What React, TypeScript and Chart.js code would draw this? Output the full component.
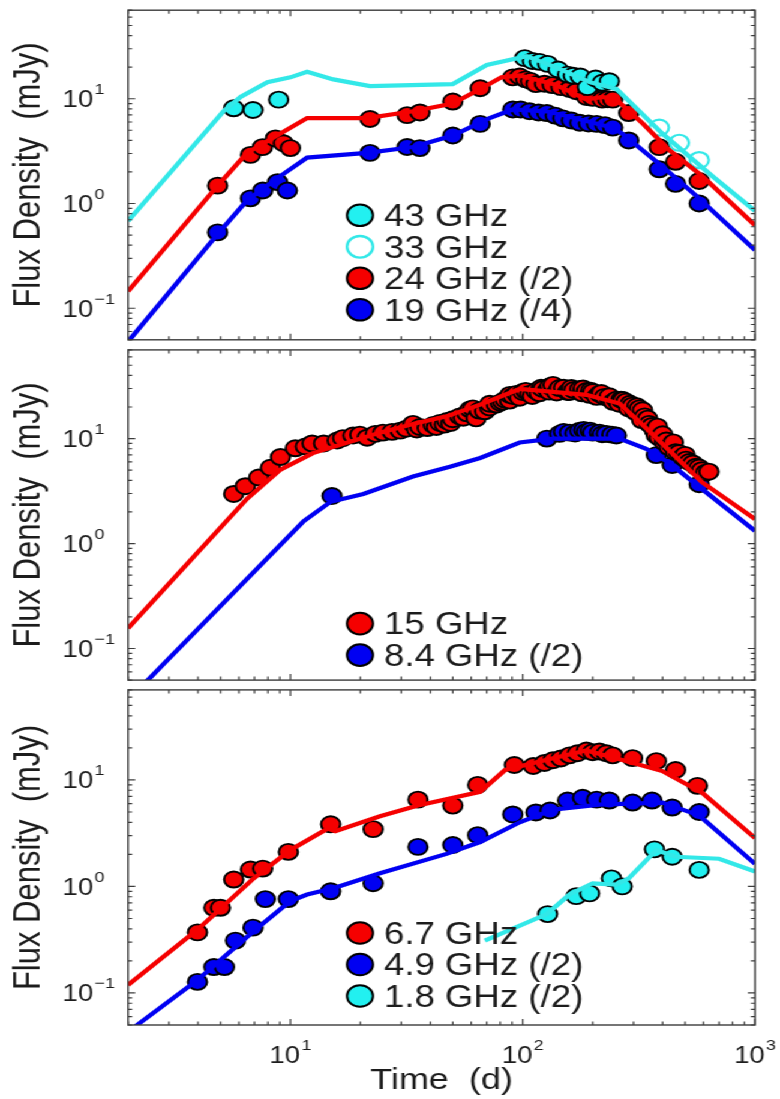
import { useEffect, useRef } from "react";
import { Chart, registerables } from "chart.js";

Chart.register(...registerables);

// ---- axis limits (shared by all three panels) ----
const DAY_MIN = 2;
const DAY_MAX = 1000;
const FLUX_MIN = 0.05;
const FLUX_MAX = 70;

// ---- top panel: 43 / 33 / 24 / 19 GHz ----
const p43Days = [5.7, 6.9, 8.9, 102, 110, 118, 128, 142, 156, 165, 177, 190, 206, 220, 236];
const p43Flux = [8.1, 7.8, 9.8, 24.4, 22.9, 22.5, 21.5, 19.0, 17.0, 16.6, 16.3, 12.9, 15.6, 14.2, 14.7];
const p33Days = [387, 472, 575];
const p33Flux = [5.3, 3.8, 2.6];
const p24Days = [4.86, 6.73, 7.58, 8.62, 9.33, 10.0, 22, 31.8, 36.1, 50, 65.6, 90.6, 97, 103, 108, 114, 124, 134, 146, 159, 170, 188, 200, 220, 232, 244, 286, 387, 455, 575];
const p24Flux = [1.48, 2.91, 3.45, 4.18, 3.76, 3.38, 6.4, 6.97, 7.4, 9.4, 12.6, 16.0, 16.3, 15.3, 14.8, 13.8, 13.9, 13.5, 12.9, 12.4, 11.8, 10.4, 10.2, 9.8, 9.9, 9.8, 7.3, 3.45, 2.5, 1.64];
const p19Days = [4.86, 6.73, 7.6, 8.8, 9.7, 22, 31.8, 36.1, 50, 65.6, 90.6, 98, 107, 117, 127, 138, 149, 162, 176, 192, 208, 226, 244, 286, 387, 455, 575];
const p19Flux = [0.53, 1.12, 1.33, 1.6, 1.33, 3.04, 3.46, 3.38, 4.46, 5.75, 7.9, 7.9, 7.6, 7.4, 7.3, 6.9, 6.5, 6.2, 5.9, 5.8, 5.75, 5.6, 5.3, 4.0, 2.12, 1.54, 1.0];

const m43Days = [2, 5.15, 6.1, 7.96, 10, 11.8, 15.3, 22, 50, 70, 104, 140, 194, 253, 399, 654, 1000];
const m43Flux = [0.68, 7.59, 10.4, 14.4, 16.0, 18.1, 15.3, 13.2, 13.8, 21.0, 25.5, 19.8, 14.4, 12.4, 4.65, 1.83, 0.85];
const m24Days = [2, 4.86, 6.5, 9.06, 11.8, 21.4, 33.7, 50, 65.6, 81, 97, 140, 188, 220, 253, 330, 427, 592, 1000];
const m24Flux = [0.145, 1.48, 3.04, 4.65, 6.53, 6.53, 7.59, 8.99, 12.4, 16.0, 16.7, 13.5, 9.8, 10.4, 9.8, 5.75, 3.24, 1.83, 0.62];
const m19Days = [2, 4.86, 6.5, 9.06, 11.8, 21.4, 33.7, 50, 72, 90.6, 127, 188, 244, 268, 399, 557, 1000];
const m19Flux = [0.048, 0.51, 1.07, 1.83, 2.74, 3.04, 3.46, 4.46, 6.53, 7.9, 7.59, 6.13, 5.28, 4.65, 2.26, 1.19, 0.36];

// ---- middle panel: 15 / 8.4 GHz ----
const p15Days = [
  5.7, 6.4, 7.3, 8.2, 9.06, 10.5, 11.6, 12.4, 13.9, 15.9, 16.8, 18.6, 19.9, 21.4, 23.2, 25.0, 27.4, 29.7, 31.5, 33.7,
  35.0, 36.1, 38.8, 41.2, 42.5, 44.0, 46.0, 47.2, 49.0, 50.0, 53.6, 55.5, 57.5, 59.3, 61.0, 63.0, 65.0, 68.6, 72, 72.1,
  77, 80, 82, 84, 87.9, 88, 91, 94, 97, 100, 103, 107, 110, 114, 118, 120, 122, 128, 130, 131,
  135, 140, 144, 150, 156, 159, 162, 166, 176, 180, 182, 188, 194, 196, 200, 208, 214, 218, 225, 236,
  236, 245, 253, 260, 265, 270, 278, 286, 290, 296, 305, 310, 318, 325, 328, 335, 345, 350, 360, 369,
  376, 380, 387, 400, 407, 415, 427, 440, 445, 455, 470, 488, 500, 505, 521, 540, 557, 575, 590, 613, 633,
];
const p15Flux = [
  2.97, 3.52, 4.26, 5.27, 6.67, 8.08, 8.4, 8.99, 8.99, 9.6, 10.1, 10.7, 10.9, 10.2, 11.1, 11.4, 11.6, 11.9, 12.4, 13.8,
  12.2, 12.9, 12.6, 13.5, 12.9, 14.1, 13.6, 14.7, 14.1, 15.3, 16.3, 15.8, 17.4, 19.0, 19.4, 15.6, 18.5, 18.2, 19.8, 21.5,
  21.1, 22.0, 22.5, 23.5, 23.0, 26.1, 25.5, 26.7, 24.5, 27.8, 28.5, 26.7, 25.5, 28.4, 27.0, 30.5, 29.7, 29.0, 28.0, 31.5,
  32.5, 27.5, 30.3, 30.5, 27.8, 27.8, 30.3, 29.0, 29.7, 27.0, 30.0, 28.4, 26.1, 28.6, 27.8, 25.0, 26.7, 27.2, 25.0, 24.0,
  25.3, 22.4, 23.5, 21.5, 23.5, 23.3, 22.5, 19.4, 21.5, 20.6, 18.0, 20.3, 19.4, 15.0, 18.6, 16.3, 15.5, 13.8, 13.2, 11.9,
  10.7, 13.0, 10.2, 11.0, 9.18, 9.6, 8.25, 8.6, 9.2, 7.42, 7.3, 6.67, 7.0, 6.3, 5.99, 5.8, 5.4, 5.3, 5.0, 4.74, 4.84,
];
const p84Days = [15.1, 127, 144, 150, 159, 168, 176, 183, 188, 195, 200, 214, 220, 229, 242, 253, 376, 440, 575];
const p84Flux = [2.84, 10.0, 11.1, 11.6, 11.4, 11.2, 11.9, 12.1, 11.6, 11.9, 11.4, 11.4, 11.0, 11.1, 10.9, 10.7, 6.96, 5.6, 3.67];

const m15Days = [2, 6.5, 9.06, 12.5, 17.6, 24.3, 33.7, 47, 65.6, 97, 188, 261, 340, 427, 592, 1000];
const m15Flux = [0.156, 2.67, 5.06, 7.27, 9.18, 11.4, 13.8, 16.3, 21.1, 29.7, 26.1, 21.6, 12.6, 7.74, 3.83, 1.71];
const m84Days = [2, 2.77, 11.4, 14.9, 20.6, 33.7, 48.6, 65.6, 97, 135, 261, 340, 427, 592, 1000];
const m84Flux = [0.032, 0.067, 1.63, 2.5, 2.97, 4.35, 5.39, 6.53, 9.18, 10.0, 10.0, 8.0, 5.87, 3.3, 1.32];

// ---- bottom panel: 6.7 / 4.9 / 1.8 GHz ----
const p67Days = [3.98, 4.68, 5.0, 5.7, 6.73, 7.6, 9.8, 14.9, 22.7, 35.4, 50, 64, 92, 111, 124, 135, 146, 159, 172, 188, 200, 214, 229, 244, 297, 376, 455, 565];
const p67Flux = [0.37, 0.63, 0.63, 1.16, 1.44, 1.47, 2.11, 3.83, 3.45, 6.53, 5.74, 8.98, 13.8, 13.5, 14.4, 15.3, 15.9, 17.0, 17.8, 18.9, 18.2, 18.5, 17.8, 17.0, 16.0, 15.0, 12.4, 8.8];
const p49Days = [3.98, 4.68, 5.2, 5.8, 6.9, 7.8, 9.8, 14.9, 22.7, 35.4, 50, 64, 90.6, 114, 131, 156, 181, 208, 236, 297, 360, 440, 575];
const p49Flux = [0.127, 0.175, 0.175, 0.31, 0.41, 0.76, 0.76, 0.9, 1.07, 2.35, 2.45, 3.03, 4.74, 4.95, 5.16, 6.4, 6.8, 6.53, 6.4, 6.13, 6.4, 5.5, 5.0];
const p18Days = [128, 170, 194, 241, 268, 369, 440, 575];
const p18Flux = [0.55, 0.81, 0.86, 1.19, 1.0, 2.23, 1.9, 1.43];

const m67Days = [2, 4.02, 6.94, 10, 14.5, 15.6, 24.3, 35.4, 65.6, 84, 135, 188, 261, 399, 592, 1000];
const m67Flux = [0.119, 0.4, 1.19, 2.2, 3.5, 3.3, 4.55, 5.74, 7.74, 12.4, 16.0, 18.9, 15.6, 12.1, 7.58, 2.84];
const m49Days = [2, 2.27, 3.98, 6.94, 10, 11.8, 15.3, 24.3, 47, 65.6, 97, 135, 214, 399, 575, 1000];
const m49Flux = [0.043, 0.053, 0.132, 0.38, 0.73, 0.84, 0.96, 1.33, 2.02, 2.61, 4.0, 5.27, 5.87, 6.13, 4.64, 1.63];
const m18Days = [68.7, 127, 159, 200, 253, 286, 376, 455, 700, 1000];
const m18Flux = [0.31, 0.55, 0.84, 1.07, 1.04, 1.19, 2.2, 1.9, 1.82, 1.38];

// ---- styling ----
const RED = "#f50000";
const BLUE = "#0000f2";
const CYAN_FILL = "#22f0f0";
const CYAN_LINE = "#33e8e8";
const INK = "#1c1c1c";
const FRAME = "#3c3c3c";
const FONT = '"Liberation Sans", Arial, Helvetica, sans-serif';

// The figure is laid out on a narrower sheet and widened horizontally.
const STRETCH = 1.2;
const SHEET_W = 650;
const SHEET_H = 1099;
const Y_AXIS_W = 106.7;
const PAD_RIGHT = 20.8;
const PAD_TOP = 5;
const X_AXIS_H = 74;

const POINT_R = 8;
const LEGEND_MARK_X = 300;
const LEGEND_TEXT_X = 320;
const LEGEND_ROW = 31.5;

const zip = (days: number[], flux: number[]) => days.map((d, i) => ({ x: d, y: flux[i] }));

function logValues(min: number, max: number) {
  const out: { v: number; e: number; major: boolean }[] = [];
  for (let e = Math.floor(Math.log10(min)); e <= Math.ceil(Math.log10(max)); e++) {
    for (let k = 1; k <= 9; k++) {
      const v = k * Math.pow(10, e);
      if (v >= min * 0.9999 && v <= max * 1.0001) out.push({ v, e, major: k === 1 });
    }
  }
  return out;
}

function drawPower(ctx: CanvasRenderingContext2D, e: number, x: number, baseY: number, mode: string) {
  const base = "10";
  const exp = e < 0 ? "\u2212" + Math.abs(e) : String(e);
  ctx.font = `23px ${FONT}`;
  const wb = ctx.measureText(base).width;
  ctx.font = `15px ${FONT}`;
  const we = ctx.measureText(exp).width;
  const x0 = mode === "center" ? x - (wb + we + 1) / 2 : x - wb;
  ctx.font = `23px ${FONT}`;
  ctx.fillText(base, x0, baseY);
  ctx.font = `15px ${FONT}`;
  ctx.fillText(exp, x0 + wb + 1, baseY - 13);
}

// Box frame with inward log ticks on all four sides, plus 10^n labels.
const logFrame = {
  id: "logFrame",
  afterDraw(chart: any, _args: any, opts: any) {
    const { ctx, chartArea: a } = chart;
    const xs = chart.scales.x;
    const ys = chart.scales.y;
    ctx.save();
    ctx.strokeStyle = FRAME;
    ctx.lineWidth = 1.2;
    ctx.beginPath();
    for (const t of logValues(DAY_MIN, DAY_MAX)) {
      const px = xs.getPixelForValue(t.v);
      const len = t.major ? 6 : 3.5;
      ctx.moveTo(px, a.bottom);
      ctx.lineTo(px, a.bottom - len);
      ctx.moveTo(px, a.top);
      ctx.lineTo(px, a.top + len);
    }
    for (const t of logValues(FLUX_MIN, FLUX_MAX)) {
      const py = ys.getPixelForValue(t.v);
      const len = t.major ? 6 : 3.5;
      ctx.moveTo(a.left, py);
      ctx.lineTo(a.left + len, py);
      ctx.moveTo(a.right, py);
      ctx.lineTo(a.right - len, py);
    }
    ctx.stroke();
    ctx.lineWidth = 1.4;
    ctx.strokeRect(a.left, a.top, a.right - a.left, a.bottom - a.top);

    ctx.fillStyle = INK;
    ctx.textAlign = "left";
    ctx.textBaseline = "alphabetic";
    for (const t of logValues(FLUX_MIN, FLUX_MAX)) {
      if (t.major) drawPower(ctx, t.e, a.left - 29, ys.getPixelForValue(t.v) + 8.3, "right");
    }
    if (opts.xLabels) {
      for (const t of logValues(DAY_MIN, DAY_MAX)) {
        if (t.major) drawPower(ctx, t.e, xs.getPixelForValue(t.v), a.bottom + 38, "center");
      }
    }
    ctx.restore();
  },
};

// Legend block in the lower middle of each panel.
const bandLegend = {
  id: "bandLegend",
  afterDraw(chart: any, _args: any, opts: any) {
    const { ctx, chartArea: a } = chart;
    const items = opts.items || [];
    const n = items.length;
    ctx.save();
    items.forEach((it: any, i: number) => {
      const y = a.bottom - opts.bottomGap - (n - 1 - i) * LEGEND_ROW;
      ctx.beginPath();
      ctx.arc(LEGEND_MARK_X, y, 10.8, 0, Math.PI * 2);
      if (it.hollow) {
        ctx.strokeStyle = it.color;
        ctx.lineWidth = 2.4;
        ctx.stroke();
      } else {
        ctx.fillStyle = it.color;
        ctx.fill();
        ctx.strokeStyle = "#000";
        ctx.lineWidth = 2;
        ctx.stroke();
      }
      ctx.fillStyle = INK;
      ctx.font = `30.5px ${FONT}`;
      ctx.textAlign = "left";
      ctx.textBaseline = "alphabetic";
      ctx.fillText(it.label, LEGEND_TEXT_X, y + 10.8);
    });
    ctx.restore();
  },
};

type PointSeries = { label: string; days: number[]; flux: number[]; color: string; hollow?: boolean };
type ModelSeries = { label: string; days: number[]; flux: number[]; color: string };
type PanelSpec = {
  top: number;
  height: number;
  showX: boolean;
  legendGap: number;
  points: PointSeries[]; // listed bottom-most first
  models: ModelSeries[];
  legend: string[];
};

const PANELS: PanelSpec[] = [
  {
    top: 0,
    height: 350,
    showX: false,
    legendGap: 30,
    points: [
      { label: "19 GHz (/4)", days: p19Days, flux: p19Flux, color: BLUE },
      { label: "24 GHz (/2)", days: p24Days, flux: p24Flux, color: RED },
      { label: "33 GHz", days: p33Days, flux: p33Flux, color: CYAN_LINE, hollow: true },
      { label: "43 GHz", days: p43Days, flux: p43Flux, color: CYAN_FILL },
    ],
    models: [
      { label: "43 GHz model", days: m43Days, flux: m43Flux, color: CYAN_LINE },
      { label: "24 GHz model", days: m24Days, flux: m24Flux, color: RED },
      { label: "19 GHz model", days: m19Days, flux: m19Flux, color: BLUE },
    ],
    legend: ["43 GHz", "33 GHz", "24 GHz (/2)", "19 GHz (/4)"],
  },
  {
    top: 340,
    height: 350,
    showX: false,
    legendGap: 25,
    points: [
      { label: "8.4 GHz (/2)", days: p84Days, flux: p84Flux, color: BLUE },
      { label: "15 GHz", days: p15Days, flux: p15Flux, color: RED },
    ],
    models: [
      { label: "15 GHz model", days: m15Days, flux: m15Flux, color: RED },
      { label: "8.4 GHz model", days: m84Days, flux: m84Flux, color: BLUE },
    ],
    legend: ["15 GHz", "8.4 GHz (/2)"],
  },
  {
    top: 680,
    height: 419,
    showX: true,
    legendGap: 29,
    points: [
      { label: "1.8 GHz (/2)", days: p18Days, flux: p18Flux, color: CYAN_FILL },
      { label: "4.9 GHz (/2)", days: p49Days, flux: p49Flux, color: BLUE },
      { label: "6.7 GHz", days: p67Days, flux: p67Flux, color: RED },
    ],
    models: [
      { label: "1.8 GHz model", days: m18Days, flux: m18Flux, color: CYAN_LINE },
      { label: "6.7 GHz model", days: m67Days, flux: m67Flux, color: RED },
      { label: "4.9 GHz model", days: m49Days, flux: m49Flux, color: BLUE },
    ],
    legend: ["6.7 GHz", "4.9 GHz (/2)", "1.8 GHz (/2)"],
  },
];

function buildConfig(p: PanelSpec): any {
  const datasets: any[] = [];
  p.points.forEach((s, i) => {
    datasets.push({
      label: s.label,
      data: zip(s.days, s.flux),
      showLine: false,
      pointRadius: POINT_R,
      pointHoverRadius: POINT_R,
      pointBackgroundColor: s.hollow ? "rgba(0,0,0,0)" : s.color,
      pointBorderColor: s.hollow ? s.color : "#000",
      pointBorderWidth: s.hollow ? 2.2 : 1.9,
      order: 100 - i,
    });
  });
  p.models.forEach((m) => {
    datasets.push({
      label: m.label,
      data: zip(m.days, m.flux),
      showLine: true,
      borderColor: m.color,
      borderWidth: 4.2,
      pointRadius: 0,
      pointHoverRadius: 0,
      fill: false,
      tension: 0,
      clip: 0,
      order: 0,
    });
  });

  const legendItems = p.legend.map((label) => {
    const s = p.points.find((q) => q.label === label)!;
    return { label, color: s.color, hollow: !!s.hollow };
  });

  const xScale: any = {
    type: "logarithmic",
    min: DAY_MIN,
    max: DAY_MAX,
    display: p.showX,
    ticks: { display: false },
    grid: { display: false },
    border: { display: false },
    title: {
      display: p.showX,
      text: "Time  (d)",
      color: INK,
      font: { family: FONT, size: 30, lineHeight: 1.2 },
      padding: { top: 0, bottom: 0 },
    },
  };
  if (p.showX) {
    xScale.afterFit = (s: any) => {
      s.height = X_AXIS_H;
    };
  }

  return {
    type: "scatter",
    data: { datasets },
    plugins: [logFrame, bandLegend],
    options: {
      responsive: false,
      animation: false,
      events: [],
      layout: { padding: { left: 0, right: PAD_RIGHT, top: PAD_TOP, bottom: p.showX ? 0 : 5 } },
      plugins: {
        legend: { display: false },
        tooltip: { enabled: false },
        logFrame: { xLabels: p.showX },
        bandLegend: { items: legendItems, bottomGap: p.legendGap },
      },
      scales: {
        x: xScale,
        y: {
          type: "logarithmic",
          min: FLUX_MIN,
          max: FLUX_MAX,
          ticks: { display: false },
          grid: { display: false },
          border: { display: false },
          title: {
            display: true,
            text: "Flux Density  (mJy)",
            color: INK,
            font: { family: FONT, size: 31, lineHeight: 1.2 },
            padding: { top: 5.5, bottom: 0 },
          },
          afterFit: (s: any) => {
            s.width = Y_AXIS_W;
          },
        },
      },
    },
  };
}

function Panel({ spec }: { spec: PanelSpec }) {
  const ref = useRef<HTMLCanvasElement>(null);
  useEffect(() => {
    const chart = new Chart(ref.current as HTMLCanvasElement, buildConfig(spec));
    return () => chart.destroy();
  }, [spec]);
  return (
    <canvas
      ref={ref}
      width={SHEET_W}
      height={spec.height}
      style={{ position: "absolute", left: 0, top: spec.top, width: SHEET_W, height: spec.height }}
    />
  );
}

export default function App() {
  return (
    <div
      style={{
        position: "absolute",
        left: 0,
        top: 0,
        width: SHEET_W,
        height: SHEET_H,
        background: "#fff",
        transform: `scaleX(${STRETCH})`,
        transformOrigin: "0 0",
      }}
    >
      {PANELS.map((p, i) => (
        <Panel key={i} spec={p} />
      ))}
    </div>
  );
}
